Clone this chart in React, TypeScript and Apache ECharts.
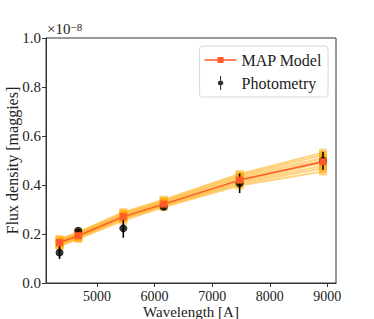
import React, { useEffect, useRef } from "react";
import * as echarts from "echarts";

const wavelengths = [4350, 4675, 5457, 6158, 7477, 8924];
const photometry = [0.124, 0.2135, 0.223, 0.311, 0.407, 0.499];
const photometryErr = [0.026, 0.006, 0.038, 0.008, 0.04, 0.037];
const mapModel = [0.165, 0.193, 0.271, 0.322, 0.42, 0.495];
const samples = [
  [0.150, 0.180, 0.255, 0.310, 0.398, 0.455],
  [0.155, 0.184, 0.262, 0.315, 0.405, 0.468],
  [0.159, 0.188, 0.266, 0.319, 0.412, 0.478],
  [0.163, 0.191, 0.270, 0.322, 0.418, 0.490],
  [0.167, 0.195, 0.274, 0.326, 0.424, 0.500],
  [0.171, 0.199, 0.279, 0.330, 0.431, 0.510],
  [0.175, 0.203, 0.284, 0.335, 0.438, 0.522],
  [0.179, 0.207, 0.289, 0.340, 0.445, 0.532],
];
const xTicks = [5000, 6000, 7000, 8000, 9000];

const FONT = "Liberation Serif";

export default function App() {
  const ref = useRef<HTMLDivElement>(null);
  useEffect(() => {
    const chart = echarts.init(ref.current!, null, { renderer: "svg" });
    const sampleSeries = samples.map((s, i) => ({
      name: "sample" + i,
      type: "line",
      data: wavelengths.map((w, j) => [w, s[j]]),
      symbol: "rect",
      symbolSize: 8,
      lineStyle: { color: "rgba(255,165,0,0.5)", width: 2 },
      itemStyle: { color: "rgba(255,165,0,0.5)" },
      z: 2,
      silent: true,
    }));
    chart.setOption({
      animation: false,
      textStyle: { fontFamily: FONT },
      grid: {
        left: 46,
        top: 38,
        right: 38,
        bottom: 36,
        outerBoundsMode: "none",
        containLabel: false,
        show: true,
        borderColor: "#333",
        borderWidth: 1,
      },
      xAxis: {
        type: "value",
        min: 4115,
        max: 9150,
        name: "Wavelength [A]",
        nameLocation: "middle",
        nameGap: 21,
        nameMoveOverlap: false,
        nameTextStyle: { fontFamily: FONT, fontSize: 15, color: "#222", lineHeight: 15 },
        axisLine: { lineStyle: { color: "#333", width: 1 } },
        axisTick: { show: true, inside: false, length: 4, customValues: xTicks, lineStyle: { color: "#333" } },
        axisLabel: {
          customValues: xTicks,
          fontFamily: FONT,
          fontSize: 14,
          lineHeight: 14,
          color: "#222",
          margin: 6,
          formatter: (v: number) => String(v),
        },
        splitLine: { show: false },
      },
      yAxis: {
        type: "value",
        min: 0,
        max: 1,
        interval: 0.2,
        name: "Flux density [maggies]",
        nameLocation: "middle",
        nameGap: 26,
        nameMoveOverlap: false,
        nameRotate: 90,
        nameTextStyle: { fontFamily: FONT, fontSize: 16, color: "#222", lineHeight: 16 },
        axisLine: { show: true, lineStyle: { color: "#333", width: 1 } },
        axisTick: { show: true, inside: false, length: 4, lineStyle: { color: "#333" } },
        axisLabel: {
          fontFamily: FONT,
          fontSize: 15,
          color: "#222",
          margin: 5,
          formatter: (v: number) => v.toFixed(1),
        },
        splitLine: { show: false },
      },
      legend: {
        data: [
          {
            name: "MAP Model",
            icon: "path://M0,6.3 L13,6.3 L13,4 L19,4 L19,6.3 L32,6.3 L32,7.7 L19,7.7 L19,10 L13,10 L13,7.7 L0,7.7 Z M0,0 M32,14",
          },
          {
            name: "Photometry",
            icon: "path://M9.2,0 L10.8,0 L10.8,7 A3.4,3.4 0 0 1 10.8,13.8 L10.8,21 L9.2,21 L9.2,13.8 A3.4,3.4 0 0 1 9.2,7 Z",
          },
        ],
        orient: "vertical",
        right: 46,
        top: 46,
        itemWidth: 32,
        itemHeight: 14,
        itemGap: 7,
        padding: [6, 6, 6, 5],
        borderColor: "#d8d8d8",
        borderWidth: 1,
        borderRadius: 3,
        backgroundColor: "rgba(255,255,255,0.8)",
        textStyle: { fontFamily: FONT, fontSize: 16, color: "#222" },
      },
      graphic: [
        {
          type: "text",
          left: 47,
          top: 21,
          style: {
            text: "{a|×10}{b|−8}",
            rich: {
              a: { fontFamily: FONT, fontSize: 15, fill: "#222", verticalAlign: "bottom" },
              b: { fontFamily: FONT, fontSize: 11, fill: "#222", verticalAlign: "top" },
            },
          },
        },
      ],
      series: [
        ...sampleSeries,
        {
          name: "PhotErr",
          type: "custom",
          data: wavelengths.map((w, i) => [w, photometry[i], photometryErr[i]]),
          renderItem: (params: any, api: any) => {
            const x = api.value(0);
            const y = api.value(1);
            const e = api.value(2);
            const p1 = api.coord([x, y - e]);
            const p2 = api.coord([x, y + e]);
            return {
              type: "line",
              shape: { x1: p1[0], y1: p1[1], x2: p2[0], y2: p2[1] },
              style: { stroke: "#000", lineWidth: 1.6 },
            };
          },
          z: 4,
          silent: true,
        },
        {
          name: "Photometry",
          type: "scatter",
          data: wavelengths.map((w, i) => [w, photometry[i]]),
          symbol: "circle",
          symbolSize: 8,
          itemStyle: { color: "#000" },
          z: 4,
        },
        {
          name: "MAP Model",
          type: "line",
          data: wavelengths.map((w, i) => [w, mapModel[i]]),
          symbol: "rect",
          symbolSize: 7,
          lineStyle: { color: "#ff5a2a", width: 1.5 },
          itemStyle: { color: "#ff5a2a" },
          z: 5,
        },
      ],
    });
    return () => chart.dispose();
  }, []);
  return (
    <div
      ref={ref}
      style={{ position: "absolute", left: 0, top: 0, width: 374, height: 319 }}
    />
  );
}
